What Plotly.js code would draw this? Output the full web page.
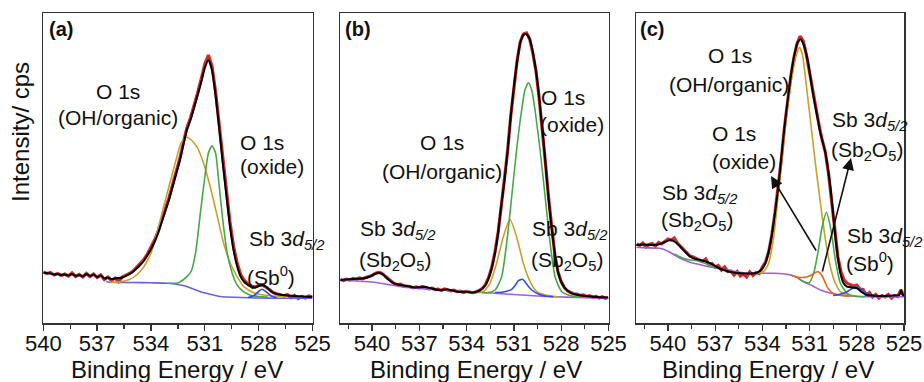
<!DOCTYPE html>
<html>
<head>
<meta charset="utf-8">
<script src="https://cdn.plot.ly/plotly-3.0.1.min.js"></script>
<style>html,body{margin:0;padding:0;background:#fff;}#plot{width:924px;height:382px;}</style>
</head>
<body>
<div id="plot"></div>
<script>
// ---------- tick labels ----------
const tickVals = [540, 537, 534, 531, 528, 525];
const tickText = ["540", "537", "534", "531", "528", "525"];

// ---------- panel (a) ----------
const aRawE = [540.0,539.8,539.6,539.4,539.2,539.0,538.8,538.6,538.4,538.2,
  538.0,537.8,537.6,537.4,537.2,537.0,536.8,536.6,536.4,536.2,
  536.0,535.8,535.6,535.4,535.2,535.0,534.8,534.6,534.4,534.2,
  534.0,533.8,533.6,533.4,533.2,533.0,532.8,532.6,532.4,532.2,
  532.0,531.8,531.6,531.4,531.2,531.0,530.8,530.6,530.4,530.2,
  530.0,529.8,529.6,529.4,529.2,529.0,528.8,528.6,528.4,528.2,
  528.0,527.8,527.6,527.4,527.2,527.0,526.8,526.6,526.4,526.2,
  526.0,525.8,525.6,525.4,525.2,525.0];
const aRawI = [51,49.5,50.5,48,49.5,47.5,49,47,50,46.5,
  48.5,46,49.5,46.5,49,45.5,48,43.5,46,42.5,
  45,41.5,46,47.5,49.5,52,55.5,59.5,63.5,69,
  75.5,83,92,102.5,113.5,125,138,151,164,180,
  195,205,217,230,244,259,268,257,231,198,
  164,132,101,77,60,48.5,42.5,39,37,36,
  37.5,38,36,33.5,30.5,29.5,28,27,28.5,25.5,
  27.5,24.5,26.5,25,27,26];
const aFitE = [540.0,539.8,539.6,539.4,539.2,539.0,538.8,538.6,538.4,538.2,
  538.0,537.8,537.6,537.4,537.2,537.0,536.8,536.6,536.4,536.2,
  536.0,535.6,535.2,
  535.0,534.8,534.6,534.4,534.2,534.0,533.8,533.6,533.4,533.2,
  533.0,532.8,532.6,532.4,532.2,532.0,531.8,531.6,531.4,531.2,
  531.0,530.8,530.6,530.4,530.2,530.0,529.8,529.6,529.4,529.2,
  529.0,528.8,528.6,528.4,528.2,528.0,527.8,527.6,527.4,527.2,
  527.0,526.5,526.0,525.5,525.0];
const aFitI = [50.3,50,49.5,48.5,49,48,48.5,47.5,49,47,
  48,46.5,49,47,48.5,46,47.5,44.5,45.5,44,
  44.5,45.5,49,
  51.3,54.5,58,62,67.5,73.7,81,90,101,112,
  123,136,149,162,178,193,203,215,228,241,
  255,263,253,228,195,160,128,97,73,57,
  46.3,41,38,36,35.5,37,38,36.5,33,30.5,
  29,27.7,27,26.5,26];
const aOhE = [536.3,535.7,535.2,534.8,534.4,534.0,533.67,533.3,532.9,532.56,532.3,532.0,531.7,531.44,531.07,530.7,530.3,529.95,529.58,529.2,528.83,528.28,527.72,527.16,526.5];
const aOhI = [40.5,41.3,43.5,48,56.3,69.7,89.7,116,143,166,181,185.7,182,176.3,159.7,136.3,106.3,79.7,59.7,46.3,36.3,30.3,28,27,26.5];
const aOxE = [533.0,532.5,532.0,531.75,531.5,531.25,531.0,530.8,530.6,530.4,530.25,530.0,529.75,529.5,529.25,529.0,528.5,528.0,527.5];
const aOxI = [39.7,40,46.3,52,72,109.7,146,170,177.3,170,146,103,69.7,51.3,39.7,33.7,28,26.5,26];
const aSb0E = [528.6,528.3,528.0,527.83,527.6,527.3,527.0];
const aSb0I = [25.5,27,31.5,33.7,31.5,27,25.3];
const aBgE = [536.5,536.3,535.0,534.0,533.0,532.5,532.0,531.6,531.2,530.7,530.3,530.0,529.0,528.0,527.0,525.0];
const aBgI = [41.5,40.7,40.5,40.2,39.7,38.5,36.5,33.7,31,28.7,27,26.3,25.5,25,24.8,24.7];

// ---------- panels (b) and (c) raw grid ----------
const bcRawE = [542.0,541.8,541.6,541.4,541.2,541.0,540.8,540.6,540.4,540.2,
  540.0,539.8,539.6,539.4,539.2,539.0,538.8,538.6,538.4,538.2,
  538.0,537.8,537.6,537.4,537.2,537.0,536.8,536.6,536.4,536.2,
  536.0,535.8,535.6,535.4,535.2,535.0,534.8,534.6,534.4,534.2,
  534.0,533.8,533.6,533.4,533.2,533.0,532.8,532.6,532.4,532.2,
  532.0,531.8,531.6,531.4,531.2,531.0,530.8,530.6,530.4,530.2,
  530.0,529.8,529.6,529.4,529.2,529.0,528.8,528.6,528.4,528.2,
  528.0,527.8,527.6,527.4,527.2,527.0,526.8,526.6,526.4,526.2,
  526.0,525.8,525.6,525.4,525.2,525.0];

// ---------- panel (b) ----------
const bRawI = [43.5,42.5,43.8,43,44.5,43.8,45,44.2,45.5,46.5,
  47.5,49.5,50.5,50,47.5,44.5,41.5,39.5,38.5,38.8,
  37.2,37,36.5,35.3,36.2,35.2,36.5,35.5,34.2,34.8,
  33.5,33.8,32.5,34,32.8,32.2,32.8,31.3,31.8,30.5,
  31.5,30.8,30.3,31.2,32.5,34.8,38.5,45.5,56,71,
  91,117,143,172,207,237,262,281,289,290,
  284,270,252,225,195,160,125,93,68,51,
  41.5,35.5,32,30.5,29,28.8,27.5,28,26.5,27.2,
  25.8,26.8,25,26.2,24.8,25.5];
const bFitE = [542.0,541.0,540.6,540.2,539.9,539.6,539.3,539.0,538.7,538.4,
  538.0,537.3,536.6,535.8,535.2,534.5,534.1,533.7,533.3,533.0,
  532.8,532.6,532.4,532.2,532.0,531.8,531.6,531.4,531.2,531.0,
  530.8,530.6,530.4,530.23,530.0,529.87,529.6,529.45,529.3,529.13,
  528.97,528.81,528.65,528.49,528.33,528.18,528.0,527.75,527.33,526.9,
  526.48,525.8,525.04];
const bFitI = [43,44.2,44.5,46,48.5,50.3,48.5,44,40.5,38.5,
  37.5,35.5,36,33,33.5,31,31.3,30.5,31.5,34.5,
  38,45,55,70,90,118,142,172,207,236,
  261,280,288,289,284,276.3,252,233,210,183,
  155,126.3,101,79.7,62,49.7,41,34.7,29.7,28,
  27,26,25.5];
const bOxE = [533.0,532.73,532.2,531.78,531.46,531.14,530.83,530.51,530.3,530.08,529.87,529.66,529.34,529.02,528.7,528.39,527.96,527.33,526.8];
const bOxI = [30.5,30.3,33,46.3,79.7,126.3,173,213,233,240.3,233,213,173,126.3,79.7,46.3,31.3,27,26];
const bOhE = [534.0,533.47,532.94,532.52,532.1,531.67,531.25,530.83,530.4,529.97,529.55,529.02,528.18];
const bOhI = [31,30.5,31.3,39.7,59.7,86.3,103.7,86.3,59.7,41.3,31.3,28,26];
const bSbE = [532.2,531.78,531.4,531.14,530.9,530.72,530.45,530.3,530.1,529.87,529.45,529.02,528.5];
const bSbI = [30.5,30.8,32,33.7,38,42.3,43.7,41.3,37,33,29,27,26.3];
const bBgE = [542.0,541.0,540.2,539.62,539.0,538.4,537.92,537.0,536.0,535.0,533.69,532.5,531.5,530.51,529.5,528.39,527.0,525.0];
const bBgI = [43,42,41.3,40.3,38.5,37,35.7,34.5,33.3,32.3,31.3,30,29,28,27,26.3,25.5,24.7];

// ---------- panel (c) ----------
const cRawI = [79,77.5,80,76,78.5,79.5,77,80.5,79,81.5,
  84,83,85,80,76.5,73,69.5,67,66,64.5,
  63,61.5,64,58.5,59.5,56,57.5,53,56,51.5,
  52,48,51.5,47,49,46,51,47.5,50.5,49.5,
  56,61,71,88,110,136,163,195,222,246,
  265,279,287,282,268,250,232,214,198,183,
  171,150,124,93,66,51,43,39.5,38.5,37,
  38,34,33.5,28,30.5,26,28.5,25,27.5,26,
  28.5,25,27.5,26.5,33,27];
const cFitE = [542.0,541.5,540.91,540.5,540.2,539.85,539.5,539.21,538.9,538.58,
  538.25,537.94,537.6,537.3,536.9,536.46,536.0,535.4,534.85,534.34,
  534.05,533.81,533.65,533.49,533.33,533.17,533.0,532.85,532.7,532.54,
  532.38,532.22,532.06,531.9,531.74,531.58,531.42,531.27,531.1,530.95,
  530.8,530.63,530.47,530.31,530.15,529.99,529.84,529.68,529.52,529.36,
  529.2,529.04,528.85,528.62,528.3,527.98,527.7,527.35,526.8,526.29,
  525.7,525.3,525.18,525.08,525.0];
const cFitI = [78,78.5,78,79,81,83,80.5,76.3,71,66.3,
  64,63,61.5,59.7,56,53,51,49.7,49.5,50.3,
  53.5,59.7,68,79.7,95,113,134,156.3,180,203,
  224,243,260,273,281,283.7,280,273,261,246.3,
  231,216.3,203,189.7,180,169.7,155,136.3,112,86.3,
  65,49.7,40,36.3,35.5,34.7,31,28,27.3,27,
  27.5,28,33,28,27.5];
const cOhE = [534.2,533.92,533.6,533.28,532.96,532.64,532.32,532.0,531.8,531.64,531.45,531.27,530.95,530.63,530.31,529.99,529.68,529.36,529.04,528.62,528.0];
const cOhI = [50,51.3,59.7,86.3,133,183,226.3,256.3,270,275.7,268,246.3,203,159.7,119.7,83,56.3,39.7,31.3,28,27];
const cOxE = [531.7,531.37,531.05,530.74,530.48,530.2,529.93,529.64,529.36,529.04,528.62,528.2,527.5];
const cOxI = [44.5,41.3,40,49.7,69.7,96.3,110.7,93,63,39.7,29.7,27,26.3];
const cSbE = [532.2,531.8,531.4,531.0,530.7,530.45,530.2,530.0,529.8,529.5,529.0,528.5];
const cSbI = [48,46,45.5,47,50,51.3,47,40,34,29.5,27.5,26.8];
const cSb0E = [529.5,529.26,528.9,528.62,528.3,528.09,527.85,527.56,527.25,526.92,526.5];
const cSb0I = [27.5,28,29.5,31.3,34.5,36.3,35,31.3,28.5,27,26.5];
const cSbLE = [539.6,539.0,538.6,538.2,537.8,537.4,537.0];
const cSbLI = [69,64.5,63,62.5,60.5,58,55.5];
const cBgE = [542.0,541.5,540.5,539.9,539.4,538.9,538.37,537.6,536.88,536.0,535.19,534.2,533.28,532.7,532.22,531.8,531.37,530.8,530.31,529.7,529.04,528.2,527.35,525.0];
const cBgI = [75.7,75.2,74.7,71,66.3,62.5,59.7,57,54.7,52.3,50.3,49.8,49.7,49.2,48,45.5,41.3,37,33,30,28,26.8,26.3,26.3];

// ---------- styles ----------
const RED = '#d02c2c', BLACK = '#000000', GOLD = '#c9a128', GREEN = '#46a846',
      BLUE = '#2b4fe8', BG_A = '#6660e4', VIOLET = '#a35ce0', ORANGE = '#e8641a';

function raw(x, y, ax, ay) {
  return {x: x, y: y, xaxis: ax, yaxis: ay, mode: 'lines', hoverinfo: 'skip', showlegend: false,
          line: {color: RED, width: 3.2}};
}
function curve(x, y, ax, ay, color, w) {
  return {x: x, y: y, xaxis: ax, yaxis: ay, mode: 'lines', hoverinfo: 'skip', showlegend: false,
          line: {color: color, width: w || 1.6, shape: 'spline', smoothing: 0.6}};
}

const data = [
  raw(aRawE, aRawI, 'x', 'y'),
  curve(aBgE, aBgI, 'x', 'y', BG_A),
  curve(aOhE, aOhI, 'x', 'y', GOLD),
  curve(aOxE, aOxI, 'x', 'y', GREEN),
  curve(aSb0E, aSb0I, 'x', 'y', BLUE),
  curve(aFitE, aFitI, 'x', 'y', BLACK, 2),

  raw(bcRawE, bRawI, 'x2', 'y2'),
  curve(bBgE, bBgI, 'x2', 'y2', VIOLET),
  curve(bOhE, bOhI, 'x2', 'y2', GOLD),
  curve(bOxE, bOxI, 'x2', 'y2', GREEN),
  curve(bSbE, bSbI, 'x2', 'y2', BLUE),
  curve(bFitE, bFitI, 'x2', 'y2', BLACK, 2),

  raw(bcRawE, cRawI, 'x3', 'y3'),
  curve(cBgE, cBgI, 'x3', 'y3', VIOLET),
  curve(cSbLE, cSbLI, 'x3', 'y3', GREEN),
  curve(cOhE, cOhI, 'x3', 'y3', GOLD),
  curve(cOxE, cOxI, 'x3', 'y3', GREEN),
  curve(cSbE, cSbI, 'x3', 'y3', ORANGE),
  curve(cSb0E, cSb0I, 'x3', 'y3', BLUE),
  curve(cFitE, cFitI, 'x3', 'y3', BLACK, 2)
];

const W = 924, H = 382;
const FONT = 'Liberation Sans, Arial, sans-serif';
const AXC = '#333333';
const yDom = [(H - 323) / H, (H - 13) / H];

function xAxis(dom, range, anchor) {
  return {domain: dom, range: range, anchor: anchor, showline: true, mirror: true, linecolor: AXC, linewidth: 1.5,
    showgrid: false, zeroline: false, ticks: 'outside', ticklen: 6, tickwidth: 1.3, tickcolor: AXC,
    tickmode: 'array', tickvals: tickVals, ticktext: tickText, tickangle: 0, ticklabelstandoff: -6,
    tickfont: {family: FONT, size: 22, color: '#111'},
    minor: {tickmode: 'linear', tick0: 525, dtick: 1.5, ticks: 'outside', ticklen: 4, tickwidth: 1.2, tickcolor: AXC, showgrid: false},
    fixedrange: true};
}
function yAxis(anchor) {
  return {domain: yDom, range: [0, 310], anchor: anchor, showline: true, mirror: true, linecolor: AXC, linewidth: 1.5,
    showgrid: false, zeroline: false, ticks: '', showticklabels: false, fixedrange: true};
}

function P(px, py) { return {x: px / W, y: 1 - py / H}; }
function note(text, px, py, opts) {
  const p = P(px, py);
  return Object.assign({text: text, x: p.x, y: p.y, xref: 'paper', yref: 'paper', showarrow: false,
    xanchor: 'center', yanchor: 'middle', font: {family: FONT, size: 21, color: '#111'}}, opts || {});
}
const SB = 'Sb 3<i>d</i><sub><i>5/2</i></sub>';
const SBOX = '(Sb<sub>2</sub>O<sub>5</sub>)';
const SB0 = '(Sb<sup>0</sup>)';
const bold = {font: {family: FONT, size: 20, color: '#111'}};

const ann = [
  note('<b>(a)</b>', 61, 29, bold),
  note('O 1s', 118, 91),
  note('(OH/organic)', 118, 118),
  note('O 1s', 262, 142),
  note('(oxide)', 272, 167),
  note(SB, 247, 240, {xanchor: 'left'}),
  note(SB0, 271, 276),

  note('<b>(b)</b>', 358, 29, bold),
  note('O 1s', 442, 142),
  note('(OH/organic)', 442, 171),
  note('O 1s', 563, 97),
  note('(oxide)', 572, 124),
  note(SB, 358, 230, {xanchor: 'left'}),
  note(SBOX, 395, 261),
  note(SB, 530, 230, {xanchor: 'left'}),
  note(SBOX, 567, 261),

  note('<b>(c)</b>', 652, 29, bold),
  note('O 1s', 730, 55),
  note('(OH/organic)', 729, 84),
  note(SB, 830, 121, {xanchor: 'left'}),
  note(SBOX, 867, 151),
  note('O 1s', 734, 133),
  note('(oxide)', 744, 161),
  note(SB, 660, 194, {xanchor: 'left'}),
  note(SBOX, 697, 221),
  note(SB, 845, 237, {xanchor: 'left'}),
  note(SB0, 870, 262),

  // arrows in panel (c)
  Object.assign(P(771, 176), {xref: 'paper', yref: 'paper', text: '', showarrow: true, ax: 46, ay: 76,
    arrowhead: 2, arrowsize: 1.5, arrowwidth: 1.6, arrowcolor: '#111'}),
  Object.assign(P(851, 158), {xref: 'paper', yref: 'paper', text: '', showarrow: true, ax: -29, ay: 115,
    arrowhead: 2, arrowsize: 1.5, arrowwidth: 1.6, arrowcolor: '#111'}),

  // axis titles
  note('Binding Energy / eV', 177, 369, {font: {family: FONT, size: 24, color: '#111'}}),
  note('Binding Energy / eV', 476, 369, {font: {family: FONT, size: 24, color: '#111'}}),
  note('Binding Energy / eV', 768, 369, {font: {family: FONT, size: 24, color: '#111'}}),
  note('Intensity/ cps', 20, 132, {textangle: -90, font: {family: FONT, size: 24, color: '#111'}})
];

const layout = {
  width: W, height: H, autosize: false,
  margin: {l: 0, r: 0, t: 0, b: 0},
  paper_bgcolor: '#ffffff', plot_bgcolor: '#ffffff',
  showlegend: false,
  xaxis: xAxis([43.3 / W, 312.5 / W], [540, 525], 'y'),
  xaxis2: xAxis([340 / W, 608.5 / W], [542.03, 525], 'y2'),
  xaxis3: xAxis([636 / W, 904 / W], [542.03, 525], 'y3'),
  yaxis: yAxis('x'),
  yaxis2: yAxis('x2'),
  yaxis3: yAxis('x3'),
  annotations: ann
};

Plotly.newPlot('plot', data, layout, {staticPlot: true, displayModeBar: false});
</script>
</body>
</html>
